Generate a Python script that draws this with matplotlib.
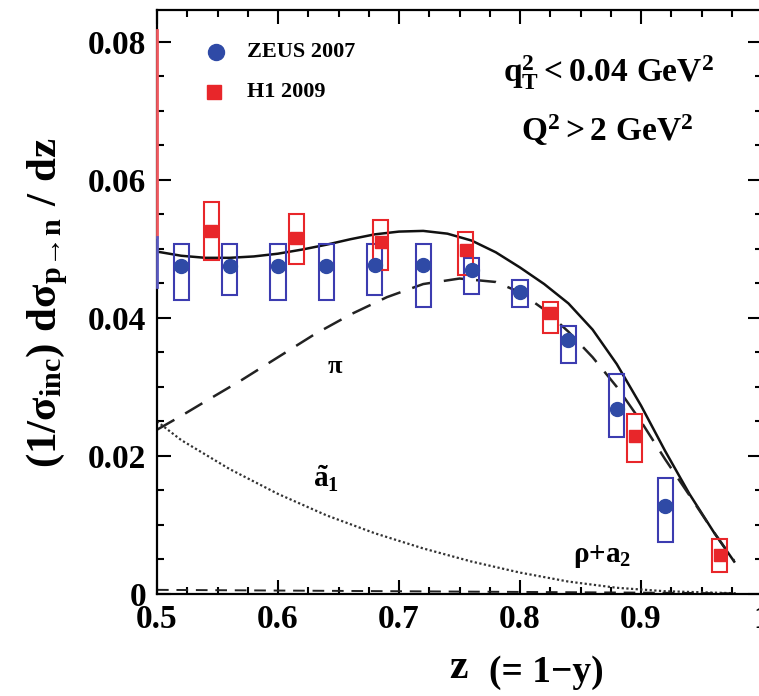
import matplotlib
matplotlib.use("Agg")
import matplotlib.pyplot as plt
from matplotlib.ticker import MultipleLocator, FixedLocator, FixedFormatter

plt.rcParams['font.family'] = ['Liberation Serif', 'DejaVu Serif']
plt.rcParams['font.weight'] = 'bold'
plt.rcParams['mathtext.fontset'] = 'custom'
plt.rcParams['mathtext.rm'] = 'Liberation Serif:bold'
plt.rcParams['mathtext.it'] = 'Liberation Serif:bold'
plt.rcParams['mathtext.bf'] = 'Liberation Serif:bold'

# ZEUS 2007 points and systematic boxes
zeus_z = [0.52, 0.56, 0.60, 0.64, 0.68, 0.72, 0.76, 0.80, 0.84, 0.88, 0.92]
zeus_v = [0.0475, 0.0475, 0.0475, 0.0475, 0.0477, 0.0477, 0.0470, 0.0438, 0.0368, 0.0268, 0.0128]
zeus_lo = [0.0426, 0.0433, 0.0426, 0.0426, 0.0433, 0.0416, 0.0435, 0.0416, 0.0335, 0.0228, 0.0075]
zeus_hi = [0.0507, 0.0507, 0.0507, 0.0507, 0.0507, 0.0507, 0.0487, 0.0455, 0.0388, 0.0319, 0.0168]

# H1 2009 points and boxes
h1_z = [0.545, 0.615, 0.685, 0.755, 0.825, 0.895, 0.965]
h1_v = [0.0526, 0.0516, 0.0510, 0.0499, 0.0407, 0.0229, 0.0057]
h1_lo = [0.0484, 0.0478, 0.0470, 0.0462, 0.0378, 0.0191, 0.0032]
h1_hi = [0.0568, 0.0551, 0.0542, 0.0525, 0.0423, 0.0261, 0.0080]

# model curves
tot_z = [0.50, 0.52, 0.54, 0.56, 0.58, 0.60, 0.62, 0.64, 0.66, 0.68, 0.70, 0.72, 0.74,
         0.76, 0.78, 0.80, 0.82, 0.84, 0.86, 0.88, 0.90, 0.92, 0.94, 0.96, 0.977]
tot_v = [0.0496, 0.0490, 0.0487, 0.0487, 0.0489, 0.0493, 0.0499, 0.0506, 0.0514, 0.0521,
         0.0525, 0.0526, 0.0522, 0.0512, 0.0495, 0.0473, 0.0449, 0.0421, 0.0383, 0.0333,
         0.0273, 0.0207, 0.0145, 0.0090, 0.0047]

pi_z = [0.50, 0.52, 0.54, 0.57, 0.60, 0.63, 0.66, 0.69, 0.72, 0.75, 0.78, 0.80, 0.82,
        0.84, 0.86, 0.88, 0.90, 0.92, 0.94, 0.96, 0.977]
pi_v = [0.0238, 0.0258, 0.0279, 0.0310, 0.0343, 0.0376, 0.0405, 0.0430, 0.0449, 0.0457,
        0.0452, 0.0437, 0.0412, 0.0380, 0.0343, 0.0300, 0.0250, 0.0195, 0.0143, 0.0090, 0.0048]

a1_z = [0.50, 0.52, 0.56, 0.60, 0.64, 0.68, 0.72, 0.76, 0.80, 0.84, 0.88, 0.92, 0.96, 0.98]
a1_v = [0.0250, 0.0223, 0.0181, 0.0145, 0.0114, 0.0088, 0.0066, 0.0047, 0.0031, 0.0018,
        0.0009, 0.0004, 0.0002, 0.0001]

rho_z = [0.50, 0.60, 0.70, 0.80, 0.90, 0.98]
rho_v = [0.0006, 0.0005, 0.0004, 0.0003, 0.0002, 0.0001]

# coloured marks on the left frame
red_edge = [0.0517, 0.0817]
blue_edge = [0.0445, 0.0517]

blue = '#2f4aa6'
blue_box = '#3c3cb0'
red = '#e8262a'

fig = plt.figure(figsize=(7.59, 6.96), dpi=100)
ax = fig.add_axes([157/759, 102/696, 605/759, 584/696])

# curves
ax.plot(tot_z, tot_v, color='#111111', lw=1.8, solid_joinstyle='round')
ax.plot(pi_z, pi_v, color='#222222', lw=1.8, dashes=(8, 5))
ax.plot(a1_z, a1_v, color='#333333', lw=1.6, dashes=(1, 1.1))
ax.plot(rho_z, rho_v, color='#222222', lw=1.4, dashes=(6, 4))

# systematic boxes
hw = 0.0062
for z, lo, hi in zip(zeus_z, zeus_lo, zeus_hi):
    ax.add_patch(plt.Rectangle((z - hw, lo), 2 * hw, hi - lo, fill=False,
                               ec=blue_box, lw=1.5, zorder=3))
for z, lo, hi in zip(h1_z, h1_lo, h1_hi):
    ax.add_patch(plt.Rectangle((z - hw, lo), 2 * hw, hi - lo, fill=False,
                               ec=red, lw=1.5, zorder=3))

ax.plot(zeus_z, zeus_v, 'o', color=blue, ms=10, mec=blue, zorder=4)
ax.plot(h1_z, h1_v, 's', color=red, ms=9, mec=red, zorder=4)

ax.plot([0.5, 0.5], red_edge, color='#f05a60', lw=2, clip_on=False, zorder=5)
ax.plot([0.5, 0.5], blue_edge, color='#5a5ac0', lw=2, clip_on=False, zorder=5)

ax.set_xlim(0.5, 1.0)
ax.set_ylim(0, 0.0846)

ax.xaxis.set_major_locator(FixedLocator([0.5, 0.6, 0.7, 0.8, 0.9, 1.0]))
ax.xaxis.set_major_formatter(FixedFormatter(['0.5', '0.6', '0.7', '0.8', '0.9', '1']))
ax.xaxis.set_minor_locator(MultipleLocator(0.025))
ax.yaxis.set_major_locator(FixedLocator([0, 0.02, 0.04, 0.06, 0.08]))
ax.yaxis.set_major_formatter(FixedFormatter(['0', '0.02', '0.04', '0.06', '0.08']))
ax.yaxis.set_minor_locator(MultipleLocator(0.005))

ax.tick_params(which='both', direction='in', top=True, right=True, width=1.5)
ax.tick_params(which='major', length=10, labelsize=24)
ax.tick_params(which='minor', length=5)
ax.tick_params(axis='y', pad=8)
ax.tick_params(axis='x', pad=7)
for s in ax.spines.values():
    s.set_linewidth(1.6)

# legend
ax.plot([0.5487], [0.0785], 'o', color=blue, ms=11.5, clip_on=False)
ax.plot([0.5470], [0.0727], 's', color=red, ms=10, clip_on=False)
ax.text(0.5745, 0.0785, 'ZEUS 2007', fontsize=16, va='center', ha='left')
ax.text(0.5745, 0.0727, 'H1 2009', fontsize=16, va='center', ha='left')

ax.text(0.873, 0.0755, r'$\mathregular{q_T^2 < 0.04\ GeV^2}$', fontsize=24, ha='center', va='center')
ax.text(0.872, 0.0672, r'$\mathregular{Q^2 > 2\ GeV^2}$', fontsize=24, ha='center', va='center')

# curve labels
ax.text(0.647, 0.0329, r'$\pi$', fontsize=19, ha='center', va='center')
ax.text(0.640, 0.0166, r'$\tilde{a}_1$', fontsize=21, ha='center', va='center')
ax.text(0.868, 0.0055, r'$\rho$+a$_2$', fontsize=21, ha='center', va='center')

fig.text(47/759, 1 - 303/696,
         r'$(1/\sigma_{inc})\ d\sigma_{p\!\rightarrow\!n}\ /\ dz$',
         rotation=90, fontsize=31, ha='center', va='center')
fig.text(458/759, 1 - 678/696, 'z', fontsize=30, ha='center', va='baseline')
fig.text(546/759, 1 - 672/696, '(= 1\u2212y)', fontsize=27, ha='center', va='center')

fig.savefig('out.png', dpi=100)
